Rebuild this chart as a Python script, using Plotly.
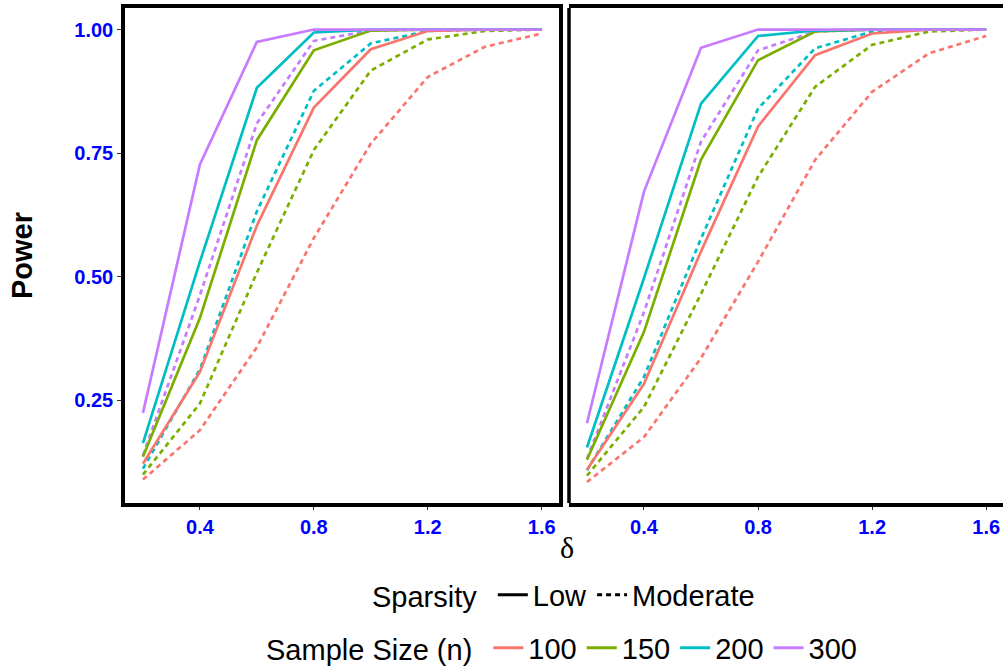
import plotly.graph_objects as go

delta = [0.2, 0.4, 0.6, 0.8, 1.0, 1.2, 1.4, 1.6]
sizes = ["100", "150", "200", "300"]
colors = ["#F8766D", "#7CAE00", "#00BFC4", "#C77CFF"]
sparsity = ["Low", "Moderate"]
x_ticks = [0.4, 0.8, 1.2, 1.6]
y_ticks = [0.25, 0.50, 0.75, 1.00]

# Left panel
left_low_100 = [0.121, 0.307, 0.603, 0.842, 0.960, 0.997, 1.0, 1.0]
left_low_150 = [0.135, 0.416, 0.776, 0.958, 0.998, 1.0, 1.0, 1.0]
left_low_200 = [0.163, 0.530, 0.882, 0.994, 1.0, 1.0, 1.0, 1.0]
left_low_300 = [0.224, 0.727, 0.975, 1.0, 1.0, 1.0, 1.0, 1.0]
left_mod_100 = [0.089, 0.189, 0.357, 0.578, 0.769, 0.904, 0.965, 0.992]
left_mod_150 = [0.099, 0.243, 0.508, 0.756, 0.917, 0.980, 0.997, 1.0]
left_mod_200 = [0.111, 0.312, 0.632, 0.876, 0.972, 0.997, 1.0, 1.0]
left_mod_300 = [0.138, 0.462, 0.810, 0.977, 0.998, 1.0, 1.0, 1.0]

# Right panel
right_low_100 = [0.109, 0.283, 0.551, 0.804, 0.948, 0.992, 1.0, 1.0]
right_low_150 = [0.129, 0.388, 0.737, 0.938, 0.996, 1.0, 1.0, 1.0]
right_low_200 = [0.154, 0.497, 0.850, 0.987, 0.998, 1.0, 1.0, 1.0]
right_low_300 = [0.203, 0.672, 0.963, 1.0, 1.0, 1.0, 1.0, 1.0]
right_mod_100 = [0.084, 0.175, 0.335, 0.530, 0.736, 0.874, 0.952, 0.987]
right_mod_150 = [0.097, 0.236, 0.465, 0.702, 0.884, 0.969, 0.996, 1.0]
right_mod_200 = [0.108, 0.297, 0.577, 0.840, 0.962, 0.996, 1.0, 1.0]
right_mod_300 = [0.131, 0.428, 0.773, 0.958, 0.996, 1.0, 1.0, 1.0]

panels = [
    ("x", "y", {"Low": [left_low_100, left_low_150, left_low_200, left_low_300],
                "Moderate": [left_mod_100, left_mod_150, left_mod_200, left_mod_300]}),
    ("x2", "y2", {"Low": [right_low_100, right_low_150, right_low_200, right_low_300],
                  "Moderate": [right_mod_100, right_mod_150, right_mod_200, right_mod_300]}),
]

DASH = "5px,4px"
LW = 2.7
fig = go.Figure()
for xa, ya, series in panels:
    for sp in ["Moderate", "Low"]:
        for i, n in enumerate(sizes):
            fig.add_trace(go.Scatter(
                x=delta, y=series[sp][i], xaxis=xa, yaxis=ya, mode="lines",
                line=dict(color=colors[i], width=LW, dash=("solid" if sp == "Low" else DASH)),
                showlegend=False, hoverinfo="skip"))

# legend entries
for sp in sparsity:
    fig.add_trace(go.Scatter(x=[None], y=[None], mode="lines", name=sp, legend="legend",
                             line=dict(color="black", width=3, dash=("solid" if sp == "Low" else DASH))))
for i, n in enumerate(sizes):
    fig.add_trace(go.Scatter(x=[None], y=[None], mode="lines", name=n, legend="legend2",
                             line=dict(color=colors[i], width=3)))

W, H = 1003, 668
ML, MR, MT, MB = 125, 0, 8, 165
pw = W - ML - MR
ph = H - MT - MB
def px(xp):
    return (xp - ML) / pw
def py(yp):
    return (H - MB - yp) / ph

FONT = "Liberation Sans, Arial, sans-serif"
tickfont = dict(family=FONT, size=20, color="#0000FF", weight="bold")
xcommon = dict(range=[0.137, 1.659], tickvals=x_ticks, ticktext=[f"{v:.1f}" for v in x_ticks],
               showgrid=False, zeroline=False, showline=True, linecolor="black", linewidth=3.5,
               ticks="outside", ticklen=3, tickcolor="#333333", tickwidth=1,
               tickfont=tickfont)
ycommon = dict(range=[0.0416, 1.0436], tickvals=y_ticks, ticktext=[f"{v:.2f}" for v in y_ticks],
               showgrid=False, zeroline=False)

fig.update_layout(
    width=W, height=H,
    margin=dict(l=ML, r=MR, t=MT, b=MB, autoexpand=False),
    paper_bgcolor="white", plot_bgcolor="white",
    xaxis=dict(domain=[0, px(558.5)], mirror=True, **xcommon),
    xaxis2=dict(domain=[px(569), 1.0], mirror=True, anchor="y2", **xcommon),
    yaxis=dict(domain=[0, 1], mirror=True, ticks="outside", ticklen=4, tickcolor="#333333",
               tickwidth=1, tickfont=tickfont, anchor="x", showline=True, linecolor="black",
               linewidth=3.5, **ycommon),
    yaxis2=dict(domain=[0, 1], matches="y", anchor="x2", showticklabels=False,
                ticks="", showline=False, **ycommon),
    font=dict(family=FONT, color="black"),
    legend=dict(orientation="h", x=px(565), y=py(595), xanchor="center", yanchor="middle",
                title=dict(text="Sparsity ", side="left", font=dict(size=29)),
                font=dict(size=29), itemwidth=30, bgcolor="rgba(0,0,0,0)",
                tracegroupgap=0),
    legend2=dict(orientation="h", x=px(563), y=py(648), xanchor="center", yanchor="middle",
                 title=dict(text="Sample Size (n) ", side="left", font=dict(size=29)),
                 font=dict(size=29), itemwidth=30, bgcolor="rgba(0,0,0,0)",
                 tracegroupgap=0),
    shapes=[
        dict(type="line", xref="paper", yref="paper", x0=px(569), x1=px(569), y0=0, y1=1,
             line=dict(color="black", width=3.5), layer="above"),
    ],
    annotations=[
        dict(text="Power", xref="paper", yref="paper", x=px(22), y=py(256), xanchor="center",
             yanchor="middle", textangle=-90, showarrow=False,
             font=dict(family=FONT, size=29, color="black", weight="bold")),
        dict(text="δ", xref="paper", yref="paper", x=px(567), y=py(547), xanchor="center",
             yanchor="middle", showarrow=False,
             font=dict(family="Liberation Serif, Times New Roman, serif", size=30, color="black")),
    ],
)

fig.write_html("out.html")
